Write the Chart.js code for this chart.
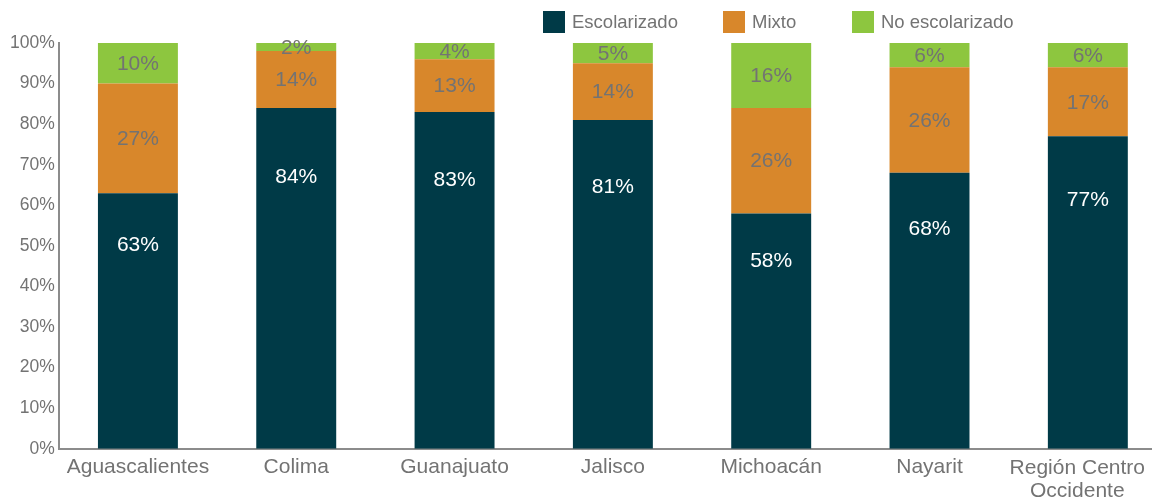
<!DOCTYPE html>
<html>
<head>
<meta charset="utf-8">
<script src="https://cdn.jsdelivr.net/npm/chart.js@4/dist/chart.umd.min.js"></script>
<style>
  html, body { margin: 0; padding: 0; background: #fff; overflow: hidden; }
  /* slightly larger than the window: the last category runs off the right edge like the original */
  #wrap { width: 1170px; height: 509px; }
</style>
</head>
<body>
<div id="wrap"><canvas id="chart"></canvas></div>
<script>
// data
const categories = ['Aguascalientes', 'Colima', 'Guanajuato', 'Jalisco', 'Michoacán', 'Nayarit', ['Región Centro', 'Occidente']];
const escolarizado = [63, 84, 83, 81, 58, 68, 77];
const mixto = [27, 14, 13, 14, 26, 26, 17];
const noEscolarizado = [10, 2, 4, 5, 16, 6, 6];

const gray = '#737373';
const fontFamily = '"Liberation Sans", Arial, sans-serif';
const lastIdx = categories.length - 1;

// in-bar value labels (datalabels plugin is not available)
const barLabels = {
    id: 'barLabels',
    afterDatasetsDraw(chart) {
        const ctx = chart.ctx;
        ctx.save();
        ctx.font = '21px ' + fontFamily;
        ctx.textAlign = 'center';
        ctx.textBaseline = 'middle';
        chart.data.datasets.forEach((ds, i) => {
            const meta = chart.getDatasetMeta(i);
            meta.data.forEach((bar, j) => {
                // the dark bottom segment has its label sitting high in the bar
                const f = i === 0 ? 0.8 : 0.5;
                const y = bar.base + (bar.y - bar.base) * f;
                ctx.fillStyle = i === 0 ? '#ffffff' : gray;
                ctx.fillText(ds.data[j] + '%', bar.x, y + 1);
            });
        });
        ctx.restore();
    }
};

// the last category label is pulled back inside the visible window
const lastTick = {
    id: 'lastTick',
    afterDraw(chart) {
        const ctx = chart.ctx;
        const xs = chart.scales.x;
        const lines = [].concat(categories[lastIdx]);
        ctx.save();
        ctx.font = '21px ' + fontFamily;
        ctx.fillStyle = gray;
        ctx.textAlign = 'center';
        ctx.textBaseline = 'middle';
        const w = Math.max(...lines.map(s => ctx.measureText(s).width));
        const cx = Math.min(xs.getPixelForTick(lastIdx), window.innerWidth - 7 - w / 2);
        lines.forEach((s, k) => ctx.fillText(s, cx, xs.top + 19 + k * 23));
        ctx.restore();
    }
};

// legend drawn by hand so it can sit in the top margin
const legendX = [543, 723, 852];
const topLegend = {
    id: 'topLegend',
    afterDraw(chart) {
        const ctx = chart.ctx;
        ctx.save();
        ctx.font = '18.5px ' + fontFamily;
        ctx.textBaseline = 'middle';
        chart.data.datasets.forEach((ds, i) => {
            const x = legendX[i];
            ctx.fillStyle = ds.backgroundColor;
            ctx.fillRect(x, 11, 22, 22);
            ctx.fillStyle = gray;
            ctx.fillText(ds.label, x + 29, 23);
        });
        ctx.restore();
    }
};

const ctx = document.getElementById('chart').getContext('2d');
new Chart(ctx, {
    type: 'bar',
    data: {
        labels: categories,
        datasets: [
            { label: 'Escolarizado', data: escolarizado, backgroundColor: '#003A47' },
            { label: 'Mixto', data: mixto, backgroundColor: '#D8872B' },
            { label: 'No escolarizado', data: noEscolarizado, backgroundColor: '#8DC63F' }
        ]
    },
    options: {
        responsive: true,
        maintainAspectRatio: false,
        animation: false,
        layout: { padding: { left: 6, right: 3, top: 43, bottom: 0 } },
        datasets: { bar: { categoryPercentage: 1, barPercentage: 0.505 } },
        plugins: {
            legend: { display: false },
            tooltip: { enabled: false }
        },
        scales: {
            x: {
                stacked: true,
                grid: { display: false, drawTicks: false },
                border: { color: '#8c8c8c', width: 2 },
                ticks: {
                    color: c => c.index === lastIdx ? 'rgba(0,0,0,0)' : gray,
                    font: { family: fontFamily, size: 21, lineHeight: 1.1 },
                    padding: 7, maxRotation: 0, autoSkip: false
                }
            },
            y: {
                stacked: true,
                min: 0,
                max: 100,
                grid: { display: false, drawTicks: false },
                border: { color: '#8c8c8c', width: 2 },
                ticks: {
                    stepSize: 10,
                    color: gray,
                    padding: 4,
                    font: { family: fontFamily, size: 17.5 },
                    callback: v => v + '%'
                }
            }
        }
    },
    plugins: [barLabels, lastTick, topLegend]
});
</script>
</body>
</html>
